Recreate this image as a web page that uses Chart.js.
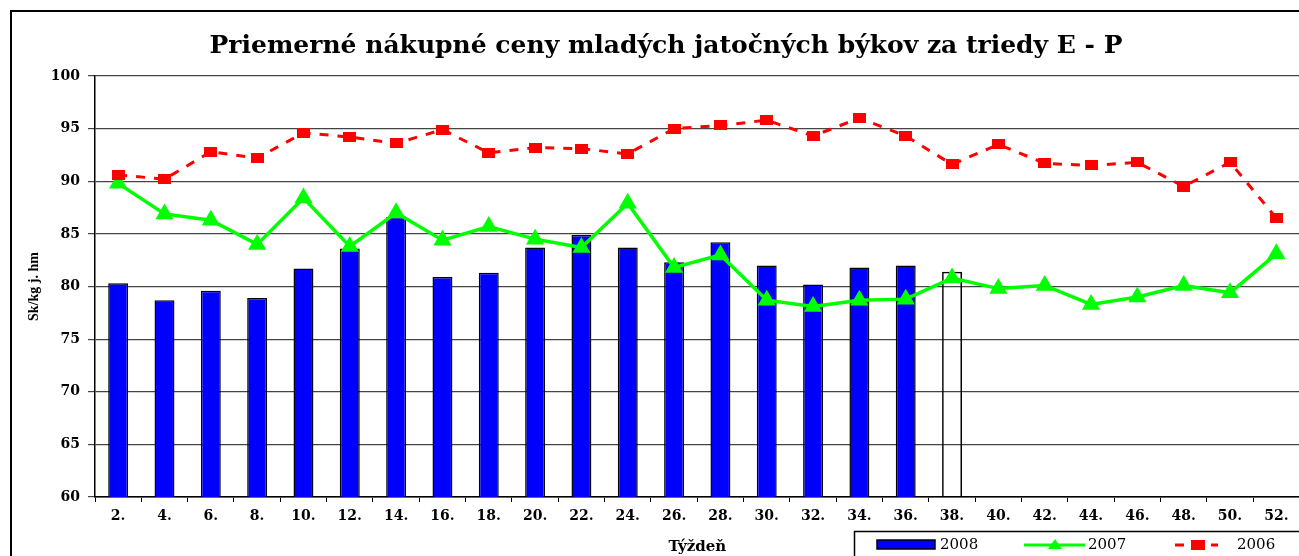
<!DOCTYPE html>
<html>
<head>
<meta charset="utf-8">
<script src="https://cdn.jsdelivr.net/npm/chart.js@4"></script>
<style>
  html, body { margin: 0; padding: 0; background: #fff; overflow: hidden; }
  #wrap { position: relative; width: 1299px; height: 556px; overflow: hidden; }
  #frame { position: absolute; left: 10px; top: 10px; width: 1400px; height: 700px; border: 2px solid #000; box-sizing: border-box; pointer-events: none; }
</style>
</head>
<body>
<div id="wrap">
  <canvas id="chart" width="1310" height="556"></canvas>
  <div id="frame"></div>
</div>
<script>
'use strict';

let weeks = ['2.', '4.', '6.', '8.', '10.', '12.', '14.', '16.', '18.', '20.', '22.', '24.', '26.',
  '28.', '30.', '32.', '34.', '36.', '38.', '40.', '42.', '44.', '46.', '48.', '50.', '52.'];

let prices2008 = [80.3, 78.7, 79.6, 78.9, 81.7, 83.6, 86.6, 80.9, 81.3, 83.7, 84.9, 83.7, 82.3,
  84.2, 82.0, 80.2, 81.8, 82.0, 81.4];

let prices2007 = [89.8, 86.9, 86.3, 84.0, 88.4, 83.8, 87.0, 84.4, 85.7, 84.5, 83.7, 87.9, 81.8,
  83.0, 78.7, 78.1, 78.7, 78.8, 80.8, 79.8, 80.1, 78.3, 79.0, 80.1, 79.4, 83.1];

let prices2006 = [90.6, 90.2, 92.8, 92.2, 94.6, 94.2, 93.6, 94.9, 92.7, 93.2, 93.1, 92.6, 95.0,
  95.3, 95.8, 94.3, 96.0, 94.3, 91.6, 93.5, 91.7, 91.5, 91.8, 89.5, 91.8, 86.5];

let seriesNames = ['2008', '2007', '2006'];

let serif = "'Liberation Serif', 'Times New Roman', serif";
let wideSerif = "'DejaVu Serif', serif";

// red rectangle marker for 2006
let rectMark = document.createElement('canvas');
rectMark.width = 13;
rectMark.height = 10;
let rc = rectMark.getContext('2d');
rc.fillStyle = '#ff0000';
rc.fillRect(0, 0, 13, 10);

// week 38 is shown as empty box
let barFill = [];
for (let i = 0; i < prices2008.length; i++) {
  barFill.push(i === prices2008.length - 1 ? 'rgba(0,0,0,0)' : '#0000ff');
}

let legendPlugin = {
  id: 'boxLegend',
  afterDraw(chart) {
    let ctx = chart.ctx;
    ctx.save();
    ctx.strokeStyle = '#000';
    ctx.lineWidth = 1.5;
    ctx.strokeRect(854.5, 531.5, 500, 60);
    ctx.font = '15px ' + wideSerif;
    ctx.fillStyle = '#000';
    ctx.textBaseline = 'middle';
    let y = 545;
    // 2008
    ctx.fillStyle = '#0000ff';
    ctx.fillRect(877, 540, 58, 9);
    ctx.strokeRect(877, 540, 58, 9);
    ctx.fillStyle = '#000';
    ctx.fillText(seriesNames[0], 940, y);
    // 2007
    ctx.strokeStyle = '#00ff00';
    ctx.lineWidth = 3;
    ctx.beginPath();
    ctx.moveTo(1024, y);
    ctx.lineTo(1085, y);
    ctx.stroke();
    ctx.fillStyle = '#00ff00';
    ctx.beginPath();
    ctx.moveTo(1055, y - 6);
    ctx.lineTo(1062, y + 4);
    ctx.lineTo(1048, y + 4);
    ctx.closePath();
    ctx.fill();
    ctx.fillStyle = '#000';
    ctx.fillText(seriesNames[1], 1088, y);
    // 2006
    ctx.strokeStyle = '#ff0000';
    ctx.setLineDash([9, 9]);
    ctx.beginPath();
    ctx.moveTo(1175, y);
    ctx.lineTo(1218, y);
    ctx.stroke();
    ctx.setLineDash([]);
    ctx.fillStyle = '#ff0000';
    ctx.fillRect(1191, y - 5, 14, 10);
    ctx.fillStyle = '#000';
    ctx.fillText(seriesNames[2], 1237, y);
    ctx.restore();
  }
};

let data = {
  labels: weeks,
  datasets: [{
    type: 'line',
    label: seriesNames[2],
    data: prices2006,
    borderColor: '#ff0000',
    backgroundColor: '#ff0000',
    borderWidth: 3,
    borderDash: [9, 9],
    pointStyle: rectMark,
    pointRadius: 6,
    tension: 0,
    order: 1
  }, {
    type: 'line',
    label: seriesNames[1],
    data: prices2007,
    borderColor: '#00ff00',
    backgroundColor: '#00ff00',
    borderWidth: 3.5,
    pointStyle: 'triangle',
    pointRadius: 7,
    tension: 0,
    order: 2
  }, {
    type: 'bar',
    label: seriesNames[0],
    data: prices2008,
    backgroundColor: barFill,
    borderColor: '#000',
    borderWidth: 1.5,
    categoryPercentage: 1,
    barPercentage: 0.43,
    order: 3
  }]
};

let config = {
  data: data,
  plugins: [legendPlugin],
  options: {
    responsive: false,
    animation: false,
    layout: { padding: { left: 22, top: 0, right: 0, bottom: 0 } },
    plugins: {
      legend: { display: false },
      tooltip: { enabled: false },
      title: {
        display: true,
        text: 'Priemerné nákupné ceny mladých jatočných býkov za triedy E - P',
        color: '#000',
        font: { family: wideSerif, size: 25, weight: 'bold' },
        padding: { top: 31, bottom: 15 }
      }
    },
    scales: {
      x: {
        grid: { offset: true, drawOnChartArea: false, color: '#000', tickLength: 5 },
        border: { color: '#000', width: 1.5 },
        ticks: { color: '#000', font: { family: wideSerif, size: 14, weight: 'bold' }, maxRotation: 0, autoSkip: false, padding: 6 },
        title: { display: true, text: 'Týždeň', color: '#000', font: { family: wideSerif, size: 15, weight: 'bold' }, padding: { top: 8, bottom: 0 } },
        afterFit(scale) { scale.height = 59; }
      },
      y: {
        min: 60,
        max: 100,
        ticks: { stepSize: 5, color: '#000', font: { family: wideSerif, size: 14, weight: 'bold' }, padding: 8 },
        grid: { color: '#444', lineWidth: 1.2, tickLength: 7 },
        border: { color: '#000', width: 1.5 },
        title: { display: true, text: 'Sk/kg j. hm', color: '#000', font: { family: serif, size: 14, weight: 'bold' }, padding: 4 },
        afterFit(scale) { scale.width = 73; }
      }
    }
  }
};

new Chart(document.getElementById('chart'), config);
</script>
</body>
</html>
